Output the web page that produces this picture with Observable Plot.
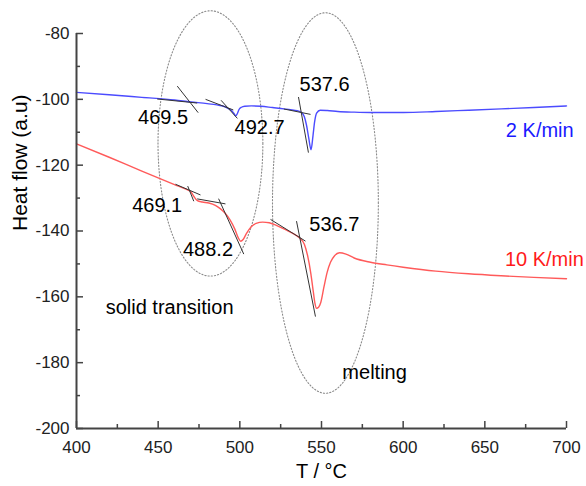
<!DOCTYPE html>
<html>
<head>
<meta charset="utf-8">
<script src="https://cdn.jsdelivr.net/npm/d3@7"></script>
<script src="https://cdn.jsdelivr.net/npm/@observablehq/plot@0.6"></script>
<style>
  html, body { margin: 0; padding: 0; background: #fff; }
  #chart { width: 586px; height: 486px; }
</style>
</head>
<body>
<div id="chart"></div>
<script>
// DSC traces: temperature (°C) and heat flow (a.u.) at two heating rates
const tempSlow = [400, 420, 440, 460, 470, 480, 486, 490, 493, 495, 496.5, 497.5, 498.5, 499.5, 501, 503, 507, 513, 520, 527, 533, 536, 538, 539.5, 540.8, 542.2, 543.6, 544.8, 545.8, 547, 549.2, 553.5, 560, 570, 580, 600, 620, 640, 660, 680, 700];
const flowSlow = [-97.9, -98.6, -99.4, -100.2, -100.8, -101.3, -101.7, -102.1, -102.8, -103.5, -104.4, -105.0, -104.3, -103.1, -102.4, -102.1, -102.0, -102.1, -102.5, -102.9, -103.3, -103.6, -104.1, -105.3, -107.8, -111.8, -115.3, -111.0, -106.8, -104.2, -103.3, -103.4, -103.7, -103.9, -104.0, -104.0, -103.7, -103.3, -102.9, -102.5, -102.0];

const tempFast = [400, 420, 440, 460, 467, 470, 472, 474, 477, 481, 485, 488, 491, 494, 497, 499, 500.5, 502, 504, 507, 510, 514, 518, 522, 526, 530, 534, 537, 539.5, 541.5, 543.5, 545, 546, 547, 548.2, 549.5, 551.5, 553.5, 555.5, 558, 561, 565, 570, 580, 590, 600, 620, 640, 660, 680, 700];
const flowFast = [-113.5, -117.6, -121.8, -125.9, -127.3, -128.1, -129.6, -130.8, -131.2, -131.5, -132.2, -133.2, -134.6, -136.6, -139.5, -142.0, -143.1, -142.6, -140.8, -138.7, -137.7, -137.3, -137.5, -138.2, -139.1, -140.1, -141.2, -142.3, -144.0, -147.5, -153.0, -158.5, -162.0, -163.5, -163.2, -161.8, -157.0, -152.5, -149.5, -147.5, -146.6, -147.0, -148.2, -149.5, -150.3, -151.0, -152.2, -153.0, -153.6, -154.1, -154.5];

const seriesNames = ["2 K/min", "10 K/min"];
const seriesColors = ["#4b4bff", "#ff5a5a"];
const seriesLabelColors = ["#1a1aff", "#ff1a1a"];

// Onset temperatures: crossing of the baseline tangent and the inflection tangent
const onsetTemp = [469.5, 492.7, 537.6, 469.1, 488.2, 536.7];
const onsetFlow = [-100.9, -102.6, -104.0, -127.6, -131.5, -142.0];
const baseSlope = [-0.05, -0.19, -0.10, -0.2126, -0.088, -0.308];
const baseSpan = [[449.4, 473.9], [479, 496], [526.9, 543.3], [460.6, 475.9], [473.9, 491.2], [518.8, 540.2]];
const steepSlope = [-0.63, -0.55, -2.77, -1.24, -1.093, -2.5];
const steepSpan = [[461.7, 474.5], [488.5, 498.5], [535.9, 542.0], [468.1, 471.8], [487, 502.4], [534.7, 546.3]];
const onsetLabelX = [453.0, 512.1, 551.9, 449.4, 480.5, 557.9];
const onsetLabelY = [-105.5, -108.6, -95.4, -132.4, -145.6, -138.0];

// Dotted regions around the transitions
const regionNames = ["solid transition", "melting"];
const regionCenterT = [482.0, 552.4];
const regionCenterF = [-113.4, -131.5];
const regionRadiusT = [32.1, 32.4];
const regionRadiusF = [40.3, 57.8];
const regionLabelX = [457.0, 582.5];
const regionLabelY = [-163.3, -182.9];

const xTicks = [400, 450, 500, 550, 600, 650, 700];
const xMinorTicks = [425, 475, 525, 575, 625, 675];
const yTicks = [-200, -180, -160, -140, -120, -100, -80];
const yMinorTicks = [-190, -170, -150, -130, -110, -90];

// Tables built from the arrays above
const slow = tempSlow.map((t, i) => ({t, f: flowSlow[i]}));
const fast = tempFast.map((t, i) => ({t, f: flowFast[i]}));

const tangents = onsetTemp.flatMap((t0, i) => {
  const f0 = onsetFlow[i];
  const line = (slope, [a, b]) => ({x1: a, y1: f0 + slope * (a - t0), x2: b, y2: f0 + slope * (b - t0)});
  return [line(baseSlope[i], baseSpan[i]), line(steepSlope[i], steepSpan[i])];
});
const onsetLabels = onsetTemp.map((t, i) => ({x: onsetLabelX[i], y: onsetLabelY[i], text: t.toFixed(1)}));

const regionOutline = regionNames.flatMap((name, i) =>
  d3.range(0, 361, 2).map(a => ({
    name,
    t: regionCenterT[i] + regionRadiusT[i] * Math.cos(a * Math.PI / 180),
    f: regionCenterF[i] + regionRadiusF[i] * Math.sin(a * Math.PI / 180)
  }))
);
const regionLabels = regionNames.map((name, i) => ({x: regionLabelX[i], y: regionLabelY[i], text: name}));

const seriesLabels = [
  {x: 704.4, y: -109.4, text: seriesNames[0], color: seriesLabelColors[0]},
  {x: 710.6, y: -148.6, text: seriesNames[1], color: seriesLabelColors[1]}
];

const font = "'Liberation Sans', Arial, sans-serif";
const plain = d => String(d); // ASCII hyphen for negative tick values

const chart = Plot.plot({
  width: 586,
  height: 486,
  marginLeft: 76,
  marginRight: 20,
  marginTop: 33,
  marginBottom: 58,
  style: {fontFamily: font, background: "#fff", color: "#222", overflow: "visible"},
  x: {domain: [400, 700], label: null},
  y: {domain: [-200, -80], label: null},
  marks: [
    // regions
    Plot.line(regionOutline, {x: "t", y: "f", z: "name", stroke: "#8a8a8a", strokeWidth: 1.1, strokeDasharray: "1.2 2", curve: "linear"}),
    // traces
    Plot.line(slow, {x: "t", y: "f", stroke: seriesColors[0], strokeWidth: 1.4, curve: "monotone-x"}),
    Plot.line(fast, {x: "t", y: "f", stroke: seriesColors[1], strokeWidth: 1.4, curve: "monotone-x"}),
    // onset construction lines
    Plot.link(tangents, {x1: "x1", y1: "y1", x2: "x2", y2: "y2", stroke: "#333", strokeWidth: 1}),
    // axes
    Plot.axisX(xTicks, {tickSize: -7, tickPadding: 19, fontSize: 17, stroke: "#444", strokeWidth: 1.5, fill: "#222", tickFormat: plain, label: null}),
    Plot.axisX(xMinorTicks, {tickSize: -4, stroke: "#444", strokeWidth: 1.5, fill: "none", label: null}),
    Plot.axisY(yTicks, {tickSize: -7, tickPadding: 14, fontSize: 17, stroke: "#444", strokeWidth: 1.5, fill: "#222", tickFormat: plain, label: null}),
    Plot.axisY(yMinorTicks, {tickSize: -4, stroke: "#444", strokeWidth: 1.5, fill: "none", label: null}),
    Plot.ruleX([400], {stroke: "#444", strokeWidth: 2}),
    Plot.ruleY([-200], {stroke: "#444", strokeWidth: 2}),
    // annotations
    Plot.text(onsetLabels, {x: "x", y: "y", text: "text", fontSize: 20, fill: "#000"}),
    Plot.text(regionLabels, {x: "x", y: "y", text: "text", fontSize: 20, fill: "#000"}),
    Plot.text(seriesLabels, {x: "x", y: "y", text: "text", fill: "color", textAnchor: "end", fontSize: 20}),
    // axis titles
    Plot.text(["Heat flow (a.u)"], {frameAnchor: "left", rotate: -90, dx: -56, fontSize: 21, fill: "#000"}),
    Plot.text(["T / °C"], {frameAnchor: "bottom", dy: 49, fontSize: 20, fill: "#000"})
  ]
});

document.getElementById("chart").appendChild(chart);
</script>
</body>
</html>
